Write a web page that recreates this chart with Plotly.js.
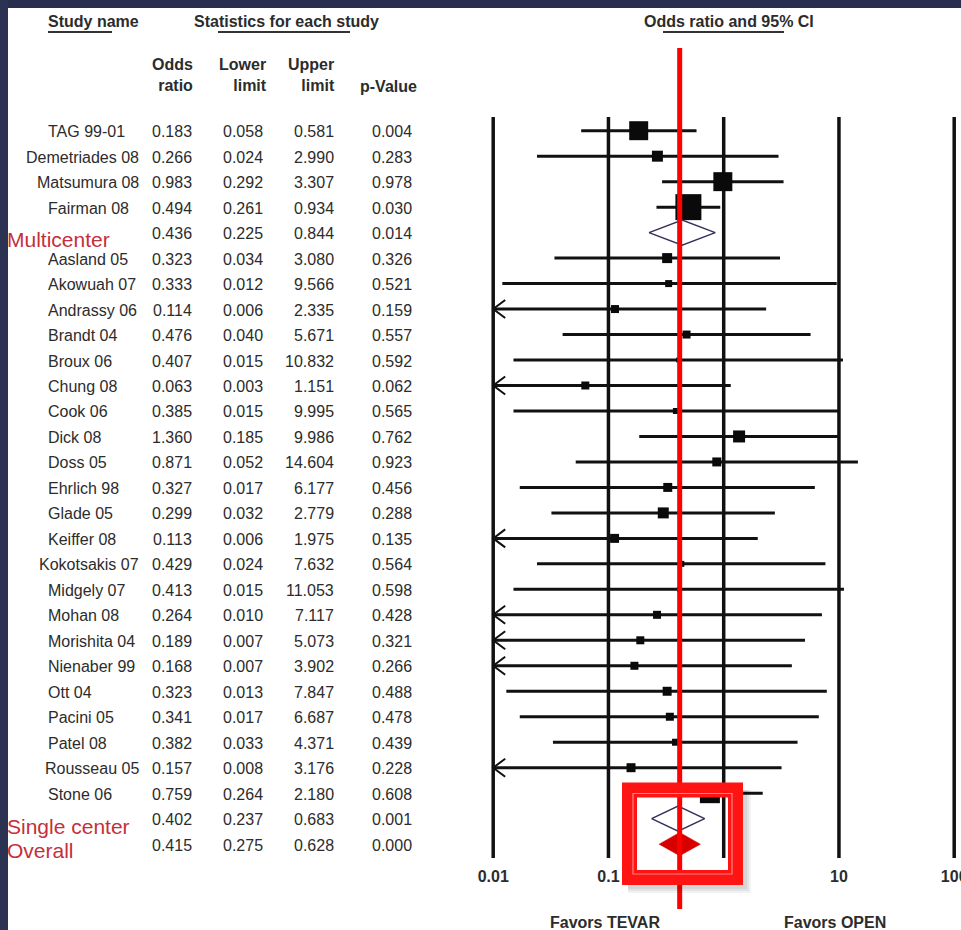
<!DOCTYPE html>
<html>
<head>
<meta charset="utf-8">
<script src="https://cdn.plot.ly/plotly-3.0.1.min.js"></script>
<style>
html,body{margin:0;padding:0;background:#ffffff;}
#chart{width:961px;height:930px;}
</style>
</head>
<body>
<div id="chart"></div>
<script>
// ---------------- DATA ----------------
const studyNames = [
  "TAG 99-01","Demetriades 08","Matsumura 08","Fairman 08","Multicenter",
  "Aasland 05","Akowuah 07","Andrassy 06","Brandt 04","Broux 06","Chung 08",
  "Cook 06","Dick 08","Doss 05","Ehrlich 98","Glade 05","Keiffer 08",
  "Kokotsakis 07","Midgely 07","Mohan 08","Morishita 04","Nienaber 99",
  "Ott 04","Pacini 05","Patel 08","Rousseau 05","Stone 06",
  "Single center","Overall"
];
const rowType = [
  "study","study","study","study","subgroup",
  "study","study","study","study","study","study",
  "study","study","study","study","study","study",
  "study","study","study","study","study",
  "study","study","study","study","study",
  "subgroup","overall"
];
const oddsRatio = [0.183,0.266,0.983,0.494,0.436,0.323,0.333,0.114,0.476,0.407,0.063,0.385,1.360,0.871,0.327,0.299,0.113,0.429,0.413,0.264,0.189,0.168,0.323,0.341,0.382,0.157,0.759,0.402,0.415];
const lowerLimit = [0.058,0.024,0.292,0.261,0.225,0.034,0.012,0.006,0.040,0.015,0.003,0.015,0.185,0.052,0.017,0.032,0.006,0.024,0.015,0.010,0.007,0.007,0.013,0.017,0.033,0.008,0.264,0.237,0.275];
const upperLimit = [0.581,2.990,3.307,0.934,0.844,3.080,9.566,2.335,5.671,10.832,1.151,9.995,9.986,14.604,6.177,2.779,1.975,7.632,11.053,7.117,5.073,3.902,7.847,6.687,4.371,3.176,2.180,0.683,0.628];
const pValue = [0.004,0.283,0.978,0.030,0.014,0.326,0.521,0.159,0.557,0.592,0.062,0.565,0.762,0.923,0.456,0.288,0.135,0.564,0.598,0.428,0.321,0.266,0.488,0.478,0.439,0.228,0.608,0.001,0.000];
// relative weight (%) estimated from the square areas
const relWeight = [10.75,3.60,10.75,20.14,null,2.98,1.46,1.91,1.91,0.74,1.91,1.07,4.29,2.41,2.41,3.60,2.41,1.07,0.74,1.91,1.91,1.91,2.41,1.91,1.46,2.41,11.92,null,null];
const axisTicks = [0.01, 0.1, 1, 10, 100];
const axisTickText = ["0.01", "0.1", "1", "10", "100"];
const favorsLabels = ["Favors TEVAR", "Favors OPEN"];

// ---------------- GEOMETRY ----------------
const W = 961, H = 930, PLOT_L = 480;
const DEC = 115.25;            // px per decade
const X1PX = 723.7;            // pixel of OR = 1
const ROW_PX = 25.48, ROW0_PX = 130.7;
const xRange = [(PLOT_L - X1PX) / DEC, (W - X1PX) / DEC];
const yRange = [(H - ROW0_PX) / ROW_PX, -ROW0_PX / ROW_PX];
const px2row = py => (py - ROW0_PX) / ROW_PX;
const pxX = px => (px - PLOT_L) / (W - PLOT_L);
const pxY = py => 1 - py / H;

const FONT = "Liberation Sans, Arial, Helvetica, sans-serif";
const TXT = "#2c2c2c";
const RED_LBL = "#c4303a";
const rows = studyNames.map((_, i) => i);

// ---------------- TRACES ----------------
const AX_MIN = axisTicks[0];
const ARW = Math.pow(10, 12 / DEC), ARH = 9 / ROW_PX;
const ciX = [], ciY = [], arX = [], arY = [];
const sqX = [], sqY = [], sqS = [];
rows.forEach(i => {
  if (rowType[i] !== "study") return;
  ciX.push(Math.max(lowerLimit[i], AX_MIN), upperLimit[i], null);
  ciY.push(i, i, null);
  if (lowerLimit[i] <= AX_MIN) {
    arX.push(AX_MIN * ARW, AX_MIN, AX_MIN * ARW, null);
    arY.push(i - ARH, i, i + ARH, null);
  }
  sqX.push(oddsRatio[i]); sqY.push(i); sqS.push(5.79 * Math.sqrt(relWeight[i]));
});
function diamond(i, hh) {
  return {x: [lowerLimit[i], oddsRatio[i], upperLimit[i], oddsRatio[i], lowerLimit[i], null],
          y: [i, i - hh, i, i + hh, i, null]};
}
const hdX = [], hdY = [], fdX = [], fdY = [];
rows.forEach(i => {
  if (rowType[i] === "subgroup") { const d = diamond(i, 0.49); hdX.push(...d.x); hdY.push(...d.y); }
  if (rowType[i] === "overall") { const d = diamond(i, 0.46); fdX.push(...d.x); fdY.push(...d.y); }
});
const overallIdx = rowType.indexOf("overall");

const traces = [
  {type: "scatter", mode: "lines", x: ciX, y: ciY, line: {color: "#111", width: 3}, hoverinfo: "skip", showlegend: false},
  {type: "scatter", mode: "lines", x: arX, y: arY, line: {color: "#111", width: 2}, hoverinfo: "skip", showlegend: false},
  {type: "scatter", mode: "markers", x: sqX, y: sqY,
   marker: {symbol: "square", size: sqS, color: "#0a0a0a", opacity: 1, line: {width: 0}}, hoverinfo: "skip", showlegend: false},
  {type: "scatter", mode: "lines", x: hdX, y: hdY, line: {color: "#3b2d5c", width: 1.5}, hoverinfo: "skip", showlegend: false},
  {type: "scatter", mode: "lines", x: fdX, y: fdY, fill: "toself", fillcolor: "#d70000",
   line: {color: "#d70000", width: 0.5}, hoverinfo: "skip", showlegend: false}
];

// ---------------- SHAPES ----------------
const shapes = [];
// slide frame
shapes.push({type: "rect", xref: "paper", yref: "paper", x0: pxX(0), x1: pxX(W), y0: pxY(0), y1: pxY(8),
  fillcolor: "#282e4e", line: {width: 0}, layer: "below"});
shapes.push({type: "rect", xref: "paper", yref: "paper", x0: pxX(0), x1: pxX(8), y0: pxY(0), y1: pxY(H),
  fillcolor: "#2b3252", line: {width: 0}, layer: "below"});
// vertical reference lines
axisTicks.forEach(v => shapes.push({type: "line", xref: "x", yref: "y", x0: v, x1: v,
  y0: px2row(117), y1: px2row(858), line: {color: "#111", width: 3.5}, layer: "below"}));
// header underlines
[[48, 112], [218, 350], [663, 784]].forEach(s => shapes.push({type: "line", xref: "paper", yref: "paper",
  x0: pxX(s[0]), x1: pxX(s[1]), y0: pxY(32), y1: pxY(32), line: {color: "#333", width: 2}}));
// red reference line at the overall OR
shapes.push({type: "line", xref: "x", yref: "paper", x0: oddsRatio[overallIdx], x1: oddsRatio[overallIdx],
  y0: pxY(48), y1: pxY(909), line: {color: "#ff0000", width: 5}, layer: "above"});
// highlight box soft shadow + box
[[6, 0.05], [4, 0.06], [2, 0.06]].forEach(s => {
  shapes.push({type: "rect", xref: "paper", yref: "paper", x0: pxX(743), x1: pxX(743 + s[0] + 2),
    y0: pxY(790), y1: pxY(885 + s[0] + 2), fillcolor: "rgba(0,0,0," + s[1] + ")", line: {width: 0}, layer: "above"});
  shapes.push({type: "rect", xref: "paper", yref: "paper", x0: pxX(628), x1: pxX(743),
    y0: pxY(885), y1: pxY(885 + s[0] + 2), fillcolor: "rgba(0,0,0," + s[1] + ")", line: {width: 0}, layer: "above"});
});
shapes.push({type: "rect", xref: "paper", yref: "paper", x0: pxX(629.5), x1: pxX(735.5), y0: pxY(790), y1: pxY(877.5),
  line: {color: "#ff1414", width: 15}, layer: "above"});
shapes.push({type: "rect", xref: "paper", yref: "paper", x0: pxX(633), x1: pxX(732), y0: pxY(793.5), y1: pxY(874),
  line: {color: "rgba(255,150,150,0.85)", width: 1.2}, layer: "above"});

// ---------------- ANNOTATIONS ----------------
const ann = [];
function txt(text, x, y, opts) {
  ann.push(Object.assign({text: text, x: x, y: y, xref: "paper", yref: "paper", showarrow: false,
    xanchor: "left", yanchor: "middle", borderpad: 0, borderwidth: 0,
    font: {family: FONT, size: 16, color: TXT}}, opts || {}));
}
// measure names to decide alignment (left at 48 unless too long)
const cvs = document.createElement("canvas").getContext("2d");
cvs.font = "16px 'Liberation Sans'";
const colRight = [192, 263, 334, 412];
const colVals = [oddsRatio, lowerLimit, upperLimit, pValue];
rows.forEach(i => {
  const yy = i + 1 / ROW_PX;
  if (rowType[i] === "study") {
    const w = cvs.measureText(studyNames[i]).width;
    const tooLong = 48 + w > 141;
    ann.push({text: studyNames[i], x: pxX(tooLong ? 139 : 48), y: yy, xref: "paper", yref: "y", showarrow: false,
      xanchor: tooLong ? "right" : "left", yanchor: "middle", borderpad: 0, borderwidth: 0,
      font: {family: FONT, size: 16, color: TXT}});
  }
  colVals.forEach((arr, c) => ann.push({text: arr[i].toFixed(3), x: pxX(colRight[c]), y: yy,
    xref: "paper", yref: "y", showarrow: false, xanchor: "right", yanchor: "middle",
    borderpad: 0, borderwidth: 0, font: {family: FONT, size: 16, color: TXT}}));
});
// red summary labels
const lblPx = {"Multicenter": 239, "Single center": 826, "Overall": 850};
rows.forEach(i => {
  if (rowType[i] !== "study") txt(studyNames[i], pxX(7), pxY(lblPx[studyNames[i]]),
    {font: {family: FONT, size: 21, color: RED_LBL}});
});
// headers
txt("<b>Study name</b>", pxX(48), pxY(21));
txt("<b>Statistics for each study</b>", pxX(194), pxY(21));
txt("<b>Odds ratio and 95% CI</b>", pxX(729), pxY(21), {xanchor: "center"});
const hdr = [["Odds<br>ratio", 193], ["Lower<br>limit", 267], ["Upper<br>limit", 335]];
hdr.forEach(h => txt("<b>" + h[0] + "</b>", pxX(h[1]), pxY(75), {xanchor: "right", align: "right"}));
txt("<b>p-Value</b>", pxX(417), pxY(87), {xanchor: "right"});
txt("<b>" + favorsLabels[0] + "</b>", pxX(605), pxY(922), {xanchor: "center"});
txt("<b>" + favorsLabels[1] + "</b>", pxX(835), pxY(922), {xanchor: "center"});

// ---------------- LAYOUT ----------------
const layout = {
  width: W, height: H,
  margin: {l: PLOT_L, r: 0, t: 0, b: 0, pad: 0},
  paper_bgcolor: "#ffffff", plot_bgcolor: "rgba(0,0,0,0)",
  xaxis: {type: "log", range: xRange, showgrid: false, zeroline: false, showline: false,
          anchor: "free", position: pxY(865),
          tickmode: "array", tickvals: axisTicks, ticktext: axisTickText.map(t => "<b>" + t + "</b>"),
          ticks: "", ticklen: 0, ticklabeloverflow: "allow",
          tickfont: {family: FONT, size: 16, color: TXT}, fixedrange: true},
  yaxis: {range: yRange, showgrid: false, zeroline: false, showline: false,
          showticklabels: false, ticks: "", fixedrange: true},
  shapes: shapes, annotations: ann, showlegend: false
};
Plotly.newPlot("chart", traces, layout, {displayModeBar: false, staticPlot: true});
</script>
</body>
</html>
